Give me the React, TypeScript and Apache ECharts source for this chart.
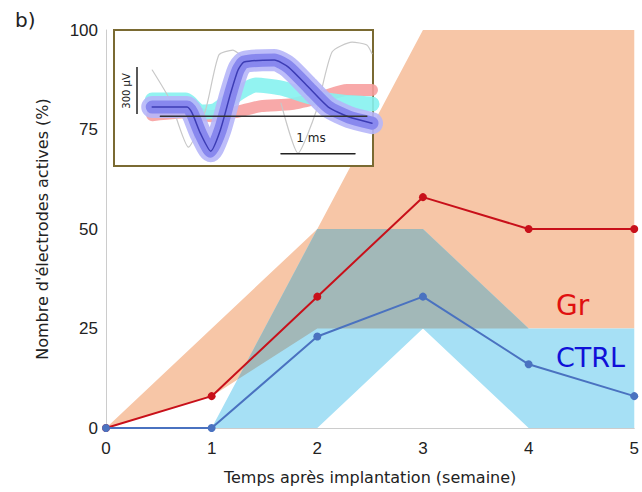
import React, { useEffect, useRef } from "react";
import * as echarts from "echarts";

// ---- main chart data ----
const weeks = [0, 1, 2, 3, 4, 5];
const xTicks = ["0", "1", "2", "3", "4", "5"];
const yTicks = [0, 25, 50, 75, 100];
const grMean = [0, 8, 33, 58, 50, 50];
const ctrlMean = [0, 0, 23, 33, 16, 8];
const grLow = [0, 8, 25, 25, 25, 25];
const grHigh = [0, 25, 50, 100, 100, 100];
const ctrlLow = [0, 0, 0, 25, 0, 0];
const ctrlHigh = [0, 0, 50, 50, 25, 25];

// ---- inset (spike waveforms) data: time in ms, amplitude in µV ----
const meanT = [0.03, 0.5, 0.57, 0.68, 0.82, 0.95, 1.09, 1.19, 1.27, 1.68, 1.87, 2.14, 2.41, 2.69, 3.0];
const meanV = [58, 58, 19, -109, -224, -90, 147, 295, 346, 359, 314, 186, 58, -6, -45];
const cyanT = [0.03, 0.48, 0.68, 0.89, 1.16, 1.43, 1.77, 2.18, 2.59, 3.0];
const cyanV = [103, 103, 26, 38, 135, 199, 180, 122, 90, 77];
const pinkT = [0.03, 0.55, 0.82, 1.16, 1.5, 1.91, 2.32, 2.66, 3.0];
const pinkV = [6, 26, 0, 26, 64, 77, 122, 167, 167];
const gray1T = [0.03, 0.27, 0.52, 0.75, 0.93, 1.12, 1.25];
const gray1V = [295, 103, -199, 38, 391, 423, 380];
const gray2T = [1.77, 2.0, 2.25, 2.46, 2.73, 2.93, 3.0];
const gray2V = [83, -237, 38, 410, 474, 455, 400];
const baseT = [0.14, 2.93];
const baseV = [0, 0];
const barT = [1.77, 2.77];
const barV = [-240, -240];

const zip = (a: number[], b: number[]) => a.map((v, i) => [v, b[i]]);

// overlap of the two bands (piecewise linear), computed from the data
function overlapBand() {
  const up: number[][] = [];
  const lo: number[][] = [];
  for (let i = 0; i < weeks.length - 1; i++) {
    const f = [grLow, ctrlLow, grHigh, ctrlHigh];
    const ts = new Set<number>([0, 1]);
    for (let a = 0; a < 4; a++)
      for (let b = a + 1; b < 4; b++) {
        const d0 = f[a][i] - f[b][i];
        const d1 = f[a][i + 1] - f[b][i + 1];
        if (d0 !== d1) {
          const t = d0 / (d0 - d1);
          if (t > 0 && t < 1) ts.add(t);
        }
      }
    const sorted = Array.from(ts).sort((p, q) => p - q);
    for (const t of sorted) {
      if (i > 0 && t === 0) continue;
      const v = (arr: number[]) => arr[i] + (arr[i + 1] - arr[i]) * t;
      const x = weeks[i] + (weeks[i + 1] - weeks[i]) * t;
      const L = Math.max(v(grLow), v(ctrlLow));
      const U = Math.min(v(grHigh), v(ctrlHigh));
      up.push([x, Math.max(U, L)]);
      lo.push([x, L]);
    }
  }
  return { up, lo };
}

function bandSeries(upper: number[][], lower: number[][], color: string, z: number) {
  return {
    type: "custom",
    xAxisIndex: 0,
    yAxisIndex: 0,
    z,
    silent: true,
    data: [[0, 0]],
    renderItem: (_params: any, api: any) => {
      const pts = [...upper, ...lower.slice().reverse()].map((p) => api.coord(p));
      return { type: "polygon", shape: { points: pts }, style: { fill: color } };
    },
  };
}

export default function App() {
  const ref = useRef<HTMLDivElement>(null);
  useEffect(() => {
    if (!ref.current) return;
    document.body.style.margin = "0";
    document.documentElement.style.overflow = "hidden";
    document.body.style.overflow = "hidden";
    const chart = echarts.init(ref.current, null, { renderer: "svg", width: 642, height: 492 });
    const ov = overlapBand();
    const insetLine = (t: number[], v: number[], color: string, width: number, z: number, opacity = 1) => ({
      type: "line",
      xAxisIndex: 1,
      yAxisIndex: 1,
      data: zip(t, v),
      showSymbol: false,
      symbol: "none",
      smooth: 0.2,
      z,
      silent: true,
      lineStyle: { color, width, opacity, cap: "round", join: "round" },
    });
    chart.setOption({
      animation: false,
      textStyle: { fontFamily: "DejaVu Sans" },
      grid: [
        { left: 106, right: 5, top: 30, bottom: 64 },
        { left: 150, top: 38, width: 222, height: 125, z: 10 },
      ],
      xAxis: [
        {
          type: "value",
          gridIndex: 0,
          min: 0,
          max: 5,
          interval: 1,
          name: "Temps après implantation (semaine)",
          nameLocation: "middle",
          nameGap: 41,
          nameTextStyle: { fontSize: 16, color: "#222", fontFamily: "DejaVu Sans" },
          axisLine: { show: true, lineStyle: { color: "#cccccc", width: 1 } },
          axisTick: { show: false },
          splitLine: { show: false },
          axisLabel: {
            fontSize: 17,
            color: "#222",
            margin: 12,
            fontFamily: "Liberation Sans",
            formatter: (v: number) => xTicks[Math.round(v)] ?? "",
          },
        },
        { type: "value", gridIndex: 1, min: 0, max: 3, show: false },
      ],
      yAxis: [
        {
          type: "value",
          gridIndex: 0,
          min: 0,
          max: 100,
          interval: 25,
          name: "Nombre d'électrodes actives (%)",
          nameLocation: "middle",
          nameGap: 56,
          nameTextStyle: { fontSize: 16, color: "#222", fontFamily: "DejaVu Sans" },
          axisLine: { show: true, lineStyle: { color: "#cccccc", width: 1 } },
          axisTick: { show: false },
          splitLine: { show: false },
          axisLabel: {
            fontSize: 17,
            color: "#222",
            margin: 8,
            fontFamily: "Liberation Sans",
            formatter: (v: number) => (yTicks.includes(v) ? String(v) : ""),
          },
        },
        { type: "value", gridIndex: 1, min: -300, max: 500, show: false },
      ],
      graphic: [
        {
          type: "text",
          left: 15,
          top: 10,
          style: { text: "b)", fontSize: 20, fill: "#222", fontFamily: "DejaVu Sans" },
        },
        {
          type: "rect",
          z: 5,
          shape: { x: 114, y: 30, width: 259, height: 136 },
          style: { fill: "#ffffff", stroke: "#7a6a32", lineWidth: 2 },
        },
        {
          type: "line",
          z: 20,
          shape: { x1: 137, y1: 67, x2: 137, y2: 114 },
          style: { stroke: "#222", lineWidth: 1.5 },
        },
        {
          type: "text",
          z: 20,
          x: 126,
          y: 91,
          rotation: Math.PI / 2,
          style: {
            text: "300 µV",
            fontSize: 10,
            fill: "#222",
            align: "center",
            verticalAlign: "middle",
            fontFamily: "DejaVu Sans",
          },
        },
        {
          type: "text",
          z: 20,
          x: 311,
          y: 138,
          style: {
            text: "1 ms",
            fontSize: 12,
            fill: "#222",
            align: "center",
            verticalAlign: "middle",
            fontFamily: "DejaVu Sans",
          },
        },
        {
          type: "text",
          z: 20,
          left: 556,
          top: 291,
          style: { text: "Gr", fontSize: 28, fill: "#e01010", fontFamily: "DejaVu Sans" },
        },
        {
          type: "text",
          z: 20,
          left: 556,
          top: 344,
          style: { text: "CTRL", fontSize: 27, fill: "#1010d8", fontFamily: "DejaVu Sans" },
        },
      ],
      series: [
        bandSeries(zip(weeks, grHigh), zip(weeks, grLow), "#f7c6a7", 1),
        bandSeries(zip(weeks, ctrlHigh), zip(weeks, ctrlLow), "#a6e0f5", 2),
        bandSeries(ov.up, ov.lo, "#a2b8b8", 3),
        {
          type: "line",
          xAxisIndex: 0,
          yAxisIndex: 0,
          data: zip(weeks, grMean),
          symbol: "circle",
          symbolSize: 8,
          z: 4,
          lineStyle: { color: "#c8101a", width: 2 },
          itemStyle: { color: "#c8101a" },
        },
        {
          type: "line",
          xAxisIndex: 0,
          yAxisIndex: 0,
          data: zip(weeks, ctrlMean),
          symbol: "circle",
          symbolSize: 8,
          z: 4,
          lineStyle: { color: "#4a72c0", width: 2 },
          itemStyle: { color: "#4a72c0" },
        },
        insetLine(pinkT, pinkV, "#f7a0a0", 12, 10, 0.9),
        insetLine(cyanT, cyanV, "#86f2f0", 15, 11, 0.9),
        insetLine(gray1T, gray1V, "#c8c8c8", 1.2, 12),
        insetLine(gray2T, gray2V, "#c8c8c8", 1.2, 12),
        insetLine(meanT, meanV, "#b6b6f8", 22, 13, 0.9),
        insetLine(meanT, meanV, "#8888ee", 13, 14),
        insetLine(meanT, meanV, "#3c3cb4", 1.5, 15),
        { ...insetLine(baseT, baseV, "#333333", 1.5, 16), smooth: false },
        { ...insetLine(barT, barV, "#222222", 1.5, 16), smooth: false },
      ],
    });
    return () => chart.dispose();
  }, []);
  return <div ref={ref} style={{ width: 642, height: 492 }} />;
}
